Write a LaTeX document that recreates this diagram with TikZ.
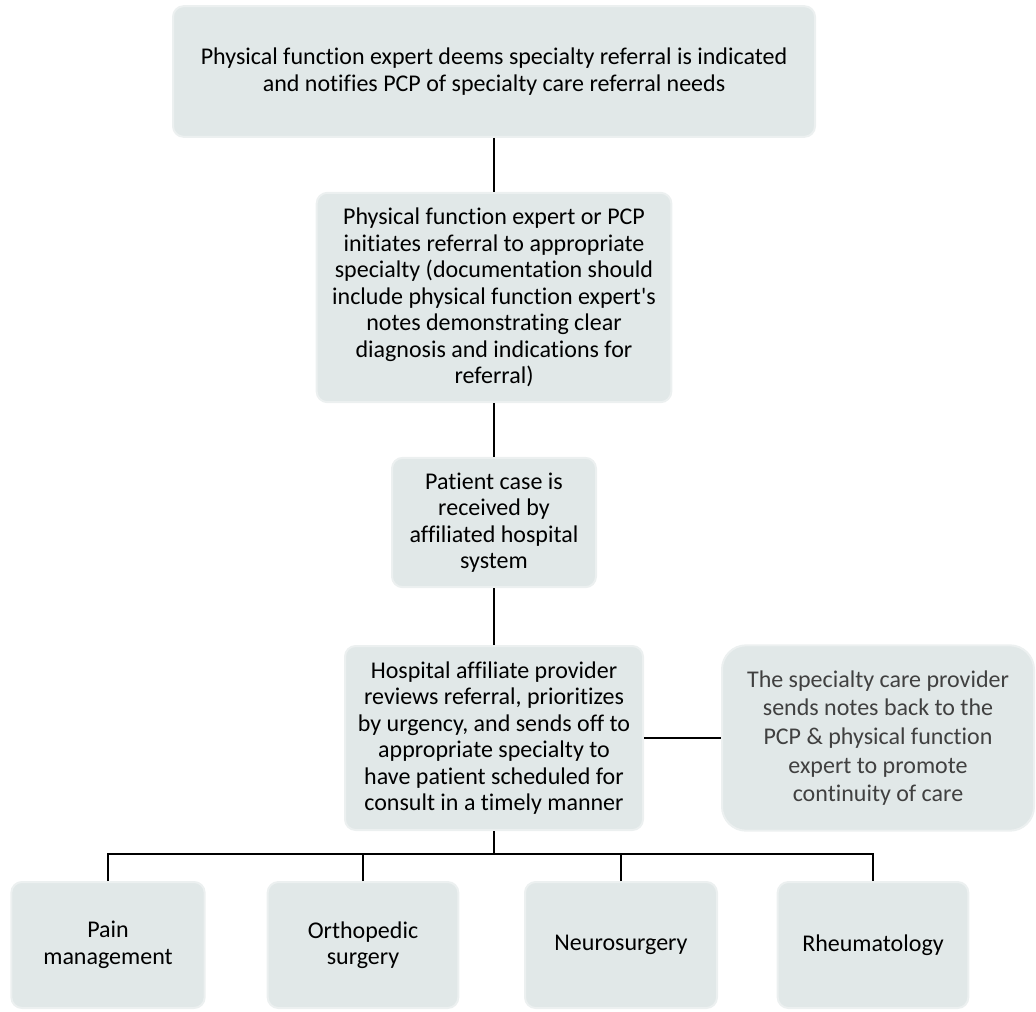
\documentclass[tikz,border=0pt]{standalone}
\usepackage{fontspec}
\setmainfont{Carlito}[Ligatures={TeXOff,CommonOff}]
\usepackage{tikz}

\definecolor{boxfill}{RGB}{225,232,232}
\definecolor{boxedge}{RGB}{236,240,240}
\definecolor{notetext}{RGB}{64,64,64}

\begin{document}
\begin{tikzpicture}[x=0.75pt,y=-0.75pt,
  stepbox/.style={draw=boxedge,line width=1.5pt,fill=boxfill,rounded corners=8pt,
    align=center,inner sep=0pt,font=\fontsize{18}{19.9}\selectfont},
  notebox/.style={stepbox,rounded corners=18pt,text=notetext,font=\fontsize{18}{21.5}\selectfont},
  link/.style={line width=1.7pt}]
\useasboundingbox (0,0) rectangle (1036,1011);

\node[stepbox,minimum width=481.5pt,minimum height=98pt] (top) at (494,71.5)
  {Physical function expert deems specialty referral is indicated\\and notifies PCP of specialty care referral needs};
\node[stepbox,minimum width=266pt,minimum height=157pt] (initiate) at (494,297.5)
  {Physical function expert or PCP\\initiates referral to appropriate\\specialty (documentation should\\include physical function expert's\\notes demonstrating clear\\diagnosis and indications for\\referral)};
\node[stepbox,minimum width=153pt,minimum height=97pt] (receive) at (494,522.5)
  {Patient case is\\received by\\affiliated hospital\\system};
\node[stepbox,minimum width=223.5pt,minimum height=138pt] (review) at (494,738)
  {Hospital affiliate provider\\reviews referral, prioritizes\\by urgency, and sends off to\\appropriate specialty to\\have patient scheduled for\\consult in a timely manner};
\node[notebox,minimum width=234pt,minimum height=139pt] (notes) at (878,738)
  {The specialty care provider\\sends notes back to the\\PCP \& physical function\\expert to promote\\continuity of care};

% specialties
\node[stepbox,minimum width=145pt,minimum height=94.5pt] (pain) at (108,945) {Pain\\management};
\node[stepbox,minimum width=143pt,minimum height=94.5pt] (ortho) at (363,945) {Orthopedic\\surgery};
\node[stepbox,minimum width=144pt,minimum height=94.5pt] (neuro) at (621,945) {Neurosurgery};
\node[stepbox,minimum width=143pt,minimum height=94.5pt] (rheum) at (873,945) {Rheumatology};

\coordinate (split) at (494,854);

\draw[link] (top) -- (initiate);
\draw[link] (initiate) -- (receive);
\draw[link] (receive) -- (review);
\draw[link] (review) -- (notes);
\draw[link] (review) -- (split);
\draw[link] (pain.north) |- (split) -| (rheum.north);
\draw[link] (ortho.north) |- (split);
\draw[link] (neuro.north) |- (split);
\end{tikzpicture}
\end{document}
